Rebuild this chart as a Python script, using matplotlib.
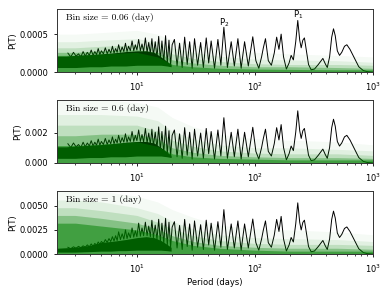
import matplotlib
matplotlib.use('Agg')
import matplotlib.pyplot as plt
import numpy as np

# panels: bin size label, height factor of the observed periodogram, y limit, y ticks
bin_labels = ['Bin size = 0.06 (day)', 'Bin size = 0.6 (day)', 'Bin size = 1 (day)']
obs_scale = [1.0, 5.07, 7.8]
ylims = [0.00083, 0.00417, 0.00653]
yticks = [[0, 0.0005], [0, 0.002], [0, 0.0025, 0.005]]
yfmt = ['%.4f', '%.3f', '%.4f']

# observed periodogram (units of 1e-4, bin 0.06 d)
# dense short-period band
p_band = [2.1, 2.5, 3, 4, 5, 6, 7, 8, 10, 12, 14, 16, 18, 19.5]
band_lo = [0.6, 0.6, 0.6, 0.7, 0.7, 0.8, 0.8, 0.8, 0.9, 0.9, 0.9, 0.9, 0.8, 0.7]
band_hi = [2.1, 2.1, 2.2, 2.3, 2.4, 2.5, 2.6, 2.7, 2.8, 2.8, 2.6, 2.0, 1.4, 1.0]
# bin 1 d band (already in panel units)
band_lo3 = [2, 2, 2, 2.5, 3, 3, 3.5, 3.5, 4, 4, 4, 4, 3.5, 3]
band_hi3 = [6, 6.5, 7, 9, 12, 13, 14, 15, 17, 18, 17, 14, 10, 7]

# spikes above the band
p_spk = [2.6, 2.75, 2.9, 3.05, 3.2, 3.35, 3.5, 3.65, 3.8, 3.95,
         4.1, 4.25, 4.4, 4.55, 4.7, 4.85, 5.0, 5.2, 5.4, 5.6,
         5.8, 6.0, 6.2, 6.4, 6.6, 6.8, 7.0, 7.25, 7.5, 7.75,
         8.0, 8.25, 8.5, 8.8, 9.1, 9.4, 9.7, 10.0, 10.35, 10.7,
         11.05, 11.4, 11.8, 12.2, 12.6, 13.0, 13.4, 13.8, 14.3, 14.8,
         15.3, 15.8, 16.3, 16.9, 17.5, 18.1, 18.7, 19.3, 19.9]
v_spk = [2.5, 2.0, 2.6, 2.1, 2.4, 2.0, 2.7, 2.1, 2.6, 2.2,
         2.9, 2.2, 2.7, 2.3, 3.1, 2.3, 2.8, 2.4, 3.2, 2.4,
         3.0, 2.5, 3.4, 2.5, 3.1, 2.6, 3.6, 2.6, 3.3, 2.7,
         3.8, 2.7, 3.4, 2.8, 4.1, 2.8, 3.6, 2.9, 4.3, 2.8,
         3.7, 2.7, 4.5, 2.6, 3.9, 2.4, 4.4, 2.2, 4.0, 1.9,
         4.7, 1.6, 4.1, 1.3, 4.8, 1.1, 4.2, 0.9, 3.6]
v_spk3 = [7, 5.5, 7.5, 6, 8, 6.5, 8.5, 7, 9.5, 7.5,
          10.5, 8, 11, 9, 12.5, 10, 13, 11, 15, 12,
          16, 13, 18, 13.5, 19, 14, 23, 15, 21, 15.5,
          25, 16, 22, 17, 27, 17.5, 24, 18, 32, 18.5,
          27, 19, 33, 19, 29, 18, 35, 17, 30, 15,
          36, 13, 32, 11, 37, 9, 33, 7, 28]

# resolved peaks at long periods
p_long = [20.8, 21.9, 23.0, 24.2, 25.4, 26.7, 28.0, 29.4, 30.8, 32.7, 34.7, 36.6,
          38.7, 40.6, 42.6, 45.5, 48.6, 51.5, 54.6, 58.5, 63.0, 67.0, 71.8, 76.5,
          81.8, 88.0, 96.0, 102, 108, 114, 118, 123, 130, 138, 146, 153, 160, 167,
          175, 185, 195, 203, 212, 222, 231, 240, 247, 255, 263, 272, 285, 300,
          320, 345, 377, 395, 411, 430, 448, 464, 480, 500, 522, 545, 575, 602,
          640, 700, 760, 830, 900, 1000]
v_long = [4.3, 0.8, 3.8, 0.6, 4.6, 1.0, 4.0, 0.5, 4.4, 0.9, 3.9, 0.6,
          4.5, 1.2, 4.1, 0.5, 4.3, 0.9, 5.9, 0.6, 4.0, 0.8, 4.4, 0.5,
          4.0, 0.8, 4.65, 1.5, 0.5, 2.0, 3.2, 4.4, 1.5, 0.9, 2.5, 4.6, 3.0, 5.0,
          2.0, 0.4, 1.2, 2.2, 1.6, 4.0, 6.8, 4.2, 3.2, 4.2, 4.5, 3.0, 1.0, 0.3,
          0.4, 1.0, 1.8, 1.1, 0.6, 2.0, 4.6, 5.7, 4.8, 2.8, 2.2, 2.6, 3.4, 3.6,
          3.0, 1.8, 0.7, 0.2, 0.05, 0.0]

# simulated periodograms: envelope levels (units of 1e-4)
p_sim = [2.1, 3, 5, 10, 15, 20, 30, 50, 100, 200, 500, 1000]
sim_levels = [
    [[2.2, 2.2, 2.4, 2.6, 2.0, 1.0, 0.7, 0.5, 0.4, 0.35, 0.3, 0.3],
     [2.6, 2.6, 2.8, 3.0, 2.6, 1.6, 1.2, 0.9, 0.7, 0.7, 0.6, 0.5],
     [3.2, 3.2, 3.4, 3.6, 3.2, 2.4, 1.8, 1.4, 1.1, 1.0, 1.0, 0.9],
     [4.0, 4.0, 4.2, 4.4, 4.0, 3.2, 2.6, 2.1, 1.7, 1.6, 1.5, 1.3],
     [5.0, 5.0, 5.2, 5.5, 5.0, 4.2, 3.6, 3.0, 2.6, 2.4, 2.2, 2.0]],
    [[11.5, 11.5, 12.5, 14, 11, 6, 4, 3, 2.5, 2, 2, 2],
     [18, 18, 19, 19, 16, 10, 7, 5, 4, 3.5, 3.5, 3],
     [25, 25, 25, 25, 21, 15, 11, 8, 6.5, 6, 6, 5],
     [32, 32, 32, 31, 28, 21, 16, 12, 10, 10, 9, 8],
     [41.7, 41.7, 41.7, 40, 37, 30, 24, 19, 16, 15, 14, 12]],
    [[32, 32, 29, 25, 20, 14, 9, 6, 4, 3, 3, 3],
     [40, 40, 37, 32, 26, 19, 13, 9, 7, 6, 6, 5],
     [48, 48, 45, 40, 33, 26, 19, 14, 11, 10, 10, 9],
     [56, 56, 54, 48, 42, 34, 26, 20, 17, 16, 15, 13],
     [65, 65, 65, 60, 54, 46, 38, 30, 26, 25, 23, 20]],
]
sim_alpha = [0.5, 0.3, 0.15, 0.08, 0.04]

fig = plt.figure(figsize=(3.9, 2.93), dpi=100)
bottoms = [0.754, 0.444, 0.133]
fs = 6

for i in range(3):
    ax = fig.add_axes([0.146, bottoms[i], 0.81, 0.215])
    s = obs_scale[i]
    if i == 2:
        lo, hi = np.array(band_lo3), np.array(band_hi3)
        line = np.array(v_spk3 + [v * s for v in v_long])
    else:
        lo, hi = np.array(band_lo) * s, np.array(band_hi) * s
        line = np.array(v_spk + v_long) * s
    ax.fill_between(p_band, lo * 1e-4, hi * 1e-4, color='black', lw=0, zorder=1)
    ax.plot(p_spk + p_long, line * 1e-4, color='black', lw=0.7, zorder=1)
    for lev, a in zip(sim_levels[i], sim_alpha):
        ax.fill_between(p_sim, 0, np.array(lev) * 1e-4, color='green', alpha=a, lw=0, zorder=2)

    ax.set_xscale('log')
    ax.set_xlim(2.1, 1000)
    ax.set_ylim(0, ylims[i])
    ax.set_yticks(yticks[i])
    ax.yaxis.set_major_formatter(matplotlib.ticker.FormatStrFormatter(yfmt[i]))
    ax.tick_params(labelsize=fs, length=2.5, width=0.6)
    ax.tick_params(which='minor', length=1.5, width=0.5)
    for sp in ax.spines.values():
        sp.set_linewidth(0.7)
        sp.set_color('#333333')
    ax.set_ylabel('P(T)', fontsize=fs, labelpad=2)
    ax.text(0.03, 0.865, bin_labels[i], transform=ax.transAxes, family='cmr10',
            fontsize=6.8, va='center', zorder=5)
    if i == 0:
        ax.text(231, 0.00075, 'P$_1$', fontsize=fs, ha='center', va='center')
        ax.text(54.6, 0.00065, 'P$_2$', fontsize=fs, ha='center', va='center')
    if i == 2:
        ax.set_xlabel('Period (days)', fontsize=fs, labelpad=2)

fig.savefig('out.png', dpi=100)
